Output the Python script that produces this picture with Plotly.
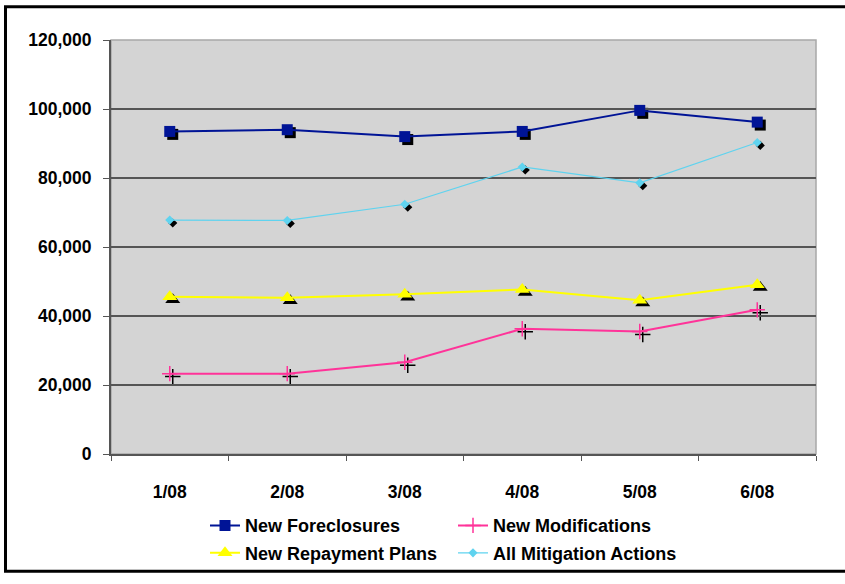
import plotly.graph_objects as go

categories = ["1/08", "2/08", "3/08", "4/08", "5/08", "6/08"]
new_foreclosures = [93500, 94000, 92000, 93500, 99600, 96200]
new_modifications = [23300, 23300, 26600, 36300, 35500, 41800]
new_repayment_plans = [45600, 45300, 46300, 47700, 44600, 49100]
all_mitigation_actions = [67800, 67700, 72400, 83200, 78600, 90300]
y_tickvals = [0, 20000, 40000, 60000, 80000, 100000, 120000]

W, H = 845, 584
L, R, T, B = 111, 26, 40, 119
PW = W - L - R  # 708
PH = H - T - B  # 425
SH = 3  # shadow offset in px

FONT = dict(family="Liberation Sans, Arial, sans-serif", size=17.5, color="black", weight="bold")
LFONT = dict(family="Liberation Sans, Arial, sans-serif", size=18, color="black", weight="bold")

series = [
    ("New Foreclosures", new_foreclosures, "#001496", 2, dict(symbol="square", size=11), "legend"),
    ("New Modifications", new_modifications, "#ff3399", 2, dict(symbol="cross-thin", size=11), "legend"),
    ("New Repayment Plans", new_repayment_plans, "#ffff00", 2, dict(symbol="triangle-up", size=13), "legend2"),
    ("All Mitigation Actions", all_mitigation_actions, "#5fd3ef", 1.2, dict(symbol="diamond", size=7), "legend2"),
]

fig = go.Figure()

# shadows (drawn first, on shifted subplot x/y)
for name, vals, color, lw, mk, lg in series:
    m = dict(mk)
    m["color"] = "black"
    if m["symbol"] == "cross-thin":
        m["line"] = dict(color="black", width=1.5)
    else:
        m["line"] = dict(width=0)
    fig.add_trace(go.Scatter(x=categories, y=vals, mode="markers", marker=m,
                             xaxis="x", yaxis="y", showlegend=False, hoverinfo="skip"))

# main series on x2/y2
for name, vals, color, lw, mk, lg in series:
    m = dict(mk)
    m["color"] = color
    if m["symbol"] == "cross-thin":
        m["line"] = dict(color=color, width=1.5)
    else:
        m["line"] = dict(width=0)
    fig.add_trace(go.Scatter(x=categories, y=vals, mode="lines+markers", name=name,
                             line=dict(color=color, width=lw), marker=m, legend=lg,
                             xaxis="x2", yaxis="y2"))

main_x = [0, (PW - SH) / PW]
main_y = [SH / PH, 1]
shadow_x = [SH / PW, 1]
shadow_y = [0, (PH - SH) / PH]


def py(px):
    return 1 - (px - T) / PH


def pxx(px):
    return (px - L) / PW


legend_common = dict(orientation="h", xanchor="left", yanchor="middle", font=LFONT,
                     entrywidth=203, itemwidth=30, bgcolor="rgba(0,0,0,0)")

frame_x0, frame_x1 = pxx(5.5), pxx(845)
frame_top, frame_bot = py(6), py(581.5)
frame_path = (f"M {frame_x1},{frame_top} L {frame_x0},{frame_top} "
              f"L {frame_x0},{frame_bot} L {frame_x1},{frame_bot}")

fig.update_layout(
    width=W, height=H,
    margin=dict(l=L, r=R, t=T, b=B),
    paper_bgcolor="white",
    plot_bgcolor="rgba(0,0,0,0)",
    font=FONT,
    xaxis=dict(domain=shadow_x, anchor="y", type="category", range=[-0.5, 5.5],
               visible=False, fixedrange=True),
    yaxis=dict(domain=shadow_y, anchor="x", range=[0, 120000], visible=False, fixedrange=True),
    xaxis2=dict(domain=main_x, anchor="y2", type="category", range=[-0.5, 5.5],
                tickson="boundaries", ticks="outside", ticklen=5, tickcolor="#555555",
                showgrid=False, showline=True, linecolor="#555555", linewidth=2,
                tickfont=FONT, ticklabelstandoff=21),
    yaxis2=dict(domain=main_y, anchor="x2", range=[0, 120000], tickvals=y_tickvals,
                tickformat=",", ticks="outside", ticklen=6, tickcolor="#555555",
                showgrid=True, gridcolor="#555555", gridwidth=1.6,
                showline=True, linecolor="#555555", linewidth=2,
                zeroline=False, tickfont=FONT, ticklabelstandoff=8),
    legend=dict(legend_common, x=pxx(205), y=py(535)),
    legend2=dict(legend_common, x=pxx(205), y=py(563)),
    shapes=[
        dict(type="rect", xref="paper", yref="paper", layer="below",
             x0=main_x[0], x1=main_x[1], y0=main_y[0], y1=main_y[1],
             fillcolor="#d4d4d4", line=dict(color="#a8a8a8", width=1.5)),
        dict(type="path", xref="paper", yref="paper", layer="above", path=frame_path,
             line=dict(color="black", width=3)),
    ],
)

fig.write_html(
    "out.html",
    config={"displayModeBar": False},
    post_script=(
        "document.body.style.margin='0px';"
        "document.body.style.overflow='hidden';"
        "document.documentElement.style.overflow='hidden';"
    ),
)
